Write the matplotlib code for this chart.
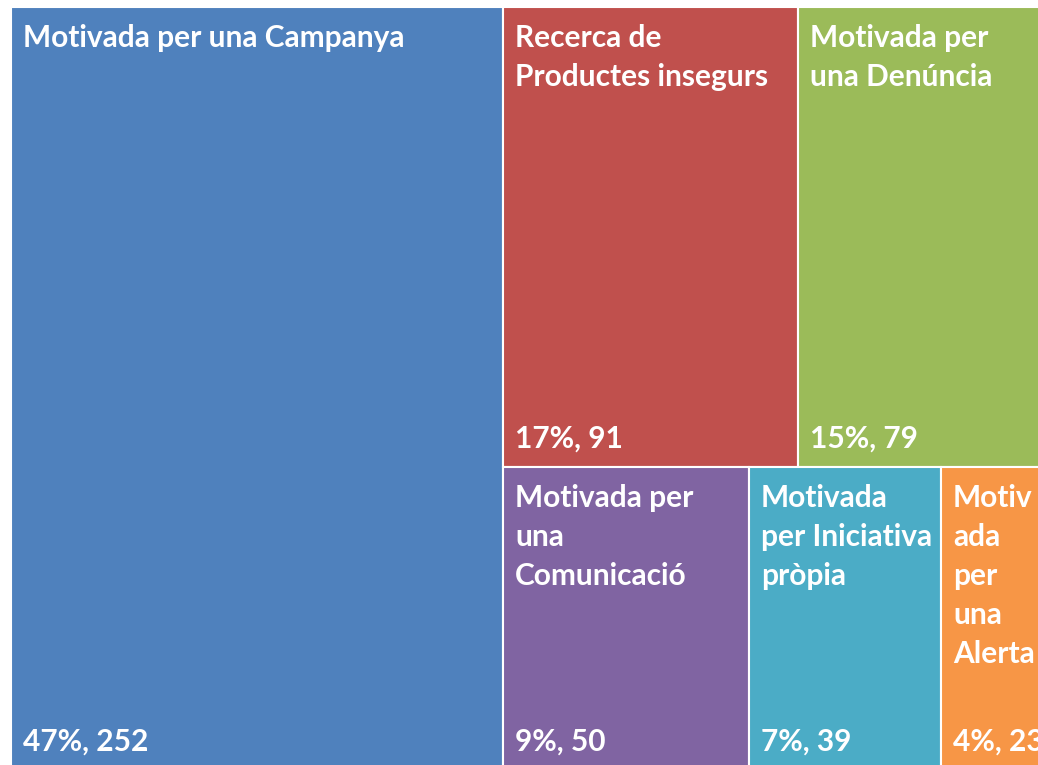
import matplotlib
matplotlib.use("Agg")
import matplotlib.pyplot as plt
from matplotlib.patches import Rectangle

# dades del treemap
labels = ["Motivada per una Campanya", "Recerca de\nProductes insegurs", "Motivada per\nuna Denúncia",
          "Motivada per\nuna\nComunicació", "Motivada\nper Iniciativa\npròpia", "Motiv\nada\nper\nuna\nAlerta"]
values = [252, 91, 79, 50, 39, 23]
colors = ["#4F81BD", "#C0504D", "#9BBB59", "#8064A2", "#4BACC6", "#F79646"]

total = sum(values)
pct = [round(100 * v / total) for v in values]

# l'area total del treemap (en pixels), queda retallada a la dreta i a baix
x0, y0 = 11, 7
W, H = 1043, 763

fig = plt.figure(figsize=(10.38, 7.65), dpi=100)
ax = fig.add_axes([0, 0, 1, 1])
ax.set_xlim(0, 1038)
ax.set_ylim(765, 0)
ax.axis("off")

rects = []
# columna esquerra: el primer element
w0 = W * values[0] / total
rects.append((x0, y0, w0, H))
rest = total - values[0]
xr = x0 + w0
wr = W - w0
top = values[1] + values[2]
h_top = H * top / rest
xx = xr
for i in [1, 2]:
    w = wr * values[i] / top
    rects.append((xx, y0, w, h_top))
    xx += w
bot = values[3] + values[4] + values[5]
xx = xr
for i in [3, 4, 5]:
    w = wr * values[i] / bot
    rects.append((xx, y0 + h_top, w, H - h_top))
    xx += w

fnt = dict(color="white", fontsize=21.5, fontweight="bold", family=["Lato", "DejaVu Sans"])
for (x, y, w, h), lab, p, v, c in zip(rects, labels, pct, values, colors):
    ax.add_patch(Rectangle((x, y), w, h, facecolor=c, edgecolor="white", linewidth=1.5))
    for k, line in enumerate(lab.split("\n")):
        ax.text(x + 12, y + 31 + k * 39, line, va="center", ha="left", **fnt)
    ax.text(x + 12, y + h - 28, "%d%%, %d" % (p, v), va="center", ha="left", **fnt)

fig.savefig("out.png", dpi=100)
